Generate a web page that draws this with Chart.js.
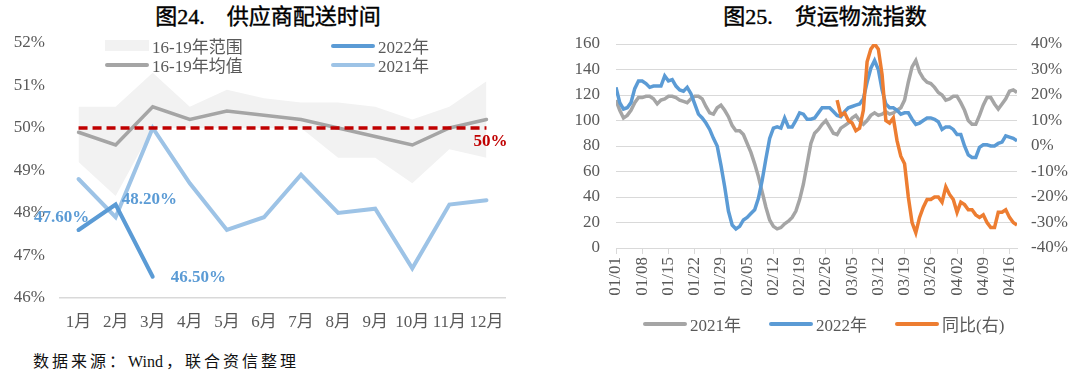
<!DOCTYPE html>
<html>
<head>
<meta charset="utf-8">
<script src="https://cdn.jsdelivr.net/npm/chart.js@4.4.0/dist/chart.umd.min.js"></script>
<style>
  body { margin: 0; width: 1080px; height: 372px; background: #fff; position: relative; overflow: hidden;
         font-family: "Liberation Serif", "Noto Sans CJK SC", serif; }
  .title { position: absolute; top: 4px; font-size: 22px; color: #000; white-space: nowrap;
           transform: translateX(-50%); line-height: 26px; -webkit-text-stroke: 0.4px #000; }
  .title .gap { display: inline-block; width: 22px; }
  .box { position: absolute; top: 30px; width: 540px; height: 308px; }
  .lg { position: absolute; font-size: 17px; color: #595959; display: flex; align-items: center; white-space: nowrap; }
  .sw { display: inline-block; width: 44px; height: 4px; border-radius: 2px; margin-right: 3px; }
  .fill { height: 11px; border-radius: 0; }
  .foot { position: absolute; left: 33px; top: 348px; font-size: 16px; letter-spacing: 3px; color: #111; }
  .foot span { letter-spacing: 0; margin-right: 3px; }
</style>
</head>
<body>
<div class="title" style="left:268px">图24.<span class="gap"></span>供应商配送时间</div>
<div class="title" style="left:825px">图25.<span class="gap"></span>货运物流指数</div>

<div class="box" style="left:0"><canvas id="c24" width="540" height="308"></canvas></div>
<div class="box" style="left:540px"><canvas id="c25" width="540" height="308"></canvas></div>

<!-- legend, chart 24 -->
<div class="lg" style="left:105px; top:33px"><span class="sw fill" style="background:#F2F2F2"></span>16-19年范围</div>
<div class="lg" style="left:331px; top:33px"><span class="sw" style="background:#5B9BD5"></span>2022年</div>
<div class="lg" style="left:105px; top:52px"><span class="sw" style="background:#A5A5A5"></span>16-19年均值</div>
<div class="lg" style="left:331px; top:52px"><span class="sw" style="background:#9DC3E6"></span>2021年</div>

<!-- legend, chart 25 -->
<div class="lg" style="left:643px; top:311px"><span class="sw" style="background:#A5A5A5"></span>2021年</div>
<div class="lg" style="left:769px; top:311px"><span class="sw" style="background:#5B9BD5"></span>2022年</div>
<div class="lg" style="left:895px; top:311px"><span class="sw" style="background:#ED7D31"></span>同比(右)</div>

<div class="foot">数据来源：<span>Wind</span>，联合资信整理</div>

<script>
// ---- 图24 供应商配送时间 (%) ----
const months = ['1月', '2月', '3月', '4月', '5月', '6月', '7月', '8月', '9月', '10月', '11月', '12月'];
const rangeHigh = [50.5, 50.5, 51.3, 50.5, 50.9, 50.7, 50.6, 50.6, 50.5, 50.2, 50.5, 51.1];
const rangeLow = [49.2, 48.4, 50.0, 50.0, 50.0, 50.0, 50.0, 49.3, 49.3, 48.7, 49.5, 49.3];
const avg1619 = [49.9, 49.6, 50.5, 50.2, 50.4, 50.3, 50.2, 50.0, 49.8, 49.6, 50.0, 50.2];
const pmi2021 = [48.8, 47.9, 50.0, 48.7, 47.6, 47.9, 48.9, 48.0, 48.1, 46.7, 48.2, 48.3];
const pmi2022 = [47.6, 48.2, 46.5];
const line50 = [50, 50, 50, 50, 50, 50, 50, 50, 50, 50, 50, 50];

// ---- 图25 货运物流指数 (daily, day 0 = 01/01) ----
const tickLabels = ['01/01', '01/08', '01/15', '01/22', '01/29', '02/05', '02/12', '02/19',
                    '02/26', '03/05', '03/12', '03/19', '03/26', '04/02', '04/09', '04/16'];
const idx2021 = [
  116, 108, 102, 104, 108, 114, 118, 118, 119, 119,
  117, 113, 116, 117, 119, 119, 118, 116, 115, 114,
  117, 119, 119, 117, 111, 106, 105, 110, 112, 108,
  103, 96, 92, 92, 89, 82, 75, 66, 56, 44,
  32, 22, 17, 15, 16, 19, 21, 24, 29, 38,
  50, 66, 82, 90, 93, 97, 100, 95, 90, 89,
  94, 96, 98, 102, 104, 100, 97, 100, 104, 106,
  104, 105, 107, 105, 106, 108, 110, 116, 130, 142,
  147, 138, 133, 130, 129, 126, 122, 120, 116, 117,
  119, 119, 114, 108, 100, 97, 97, 104, 112, 118,
  118, 113, 109, 113, 117, 123, 124, 122
];
const idx2022 = [
  126, 114, 109, 110, 114, 125, 131, 131, 129, 126,
  127, 127, 127, 135, 131, 132, 127, 124, 123, 126,
  121, 113, 105, 102, 98, 93, 86, 80, 65, 48,
  29, 18, 15, 17, 22, 24, 27, 30, 39, 53,
  70, 86, 94, 95, 94, 102, 95, 95, 100, 106,
  105, 101, 101, 102, 106, 110, 110, 110, 107, 104,
  103, 107, 110, 111, 112, 113, 117, 130, 141, 147,
  140, 124, 113, 110, 110, 108, 105, 106, 106, 101,
  97, 98, 100, 102, 102, 101, 99, 93, 95, 95,
  93, 89, 89, 80, 73, 71, 71, 79, 81, 81,
  80, 80, 82, 83, 88, 87, 86, 84
];
const yoyStartDay = 59;
const yoy = [
  18, 12, 13, 10, 9, 6, 7, 14, 33, 38,
  40, 38, 28, 10, 9, 11, 2, -4, -7, -20,
  -30, -34, -28, -24, -21, -21, -20, -20, -22, -16,
  -19, -21, -26, -22, -23, -25, -25, -27, -28, -27,
  -30, -32, -32, -26, -26, -25, -28, -30, -31
];

Chart.defaults.font.family = '"Liberation Serif", "Noto Sans CJK SC", serif';
Chart.defaults.font.size = 17;
Chart.defaults.color = '#595959';

// fixed axis width; drop the label padding chart.js adds above/below the y axis
function fixWidth(w) {
  return s => { s.width = w; s.paddingTop = 0; s.paddingBottom = 0; };
}

// data labels on the 2022 line and the "50%" tag
const labels24 = {
  id: 'labels24',
  afterDatasetsDraw(chart) {
    const ctx = chart.ctx;
    const pts = chart.getDatasetMeta(1).data;
    const offs = [[-17, -12, 'center'], [6, -5, 'left'], [18, 1, 'left']];
    ctx.save();
    ctx.font = 'bold 17px "Liberation Serif"';
    ctx.textBaseline = 'middle';
    ctx.fillStyle = '#5B9BD5';
    pts.forEach((p, i) => {
      ctx.textAlign = offs[i][2];
      ctx.fillText(pmi2022[i].toFixed(2) + '%', p.x + offs[i][0], p.y + offs[i][1]);
    });
    const last = chart.getDatasetMeta(0).data[11];
    ctx.fillStyle = '#C00000';
    ctx.textAlign = 'center';
    ctx.fillText('50%', last.x + 4, last.y + 14);
    ctx.restore();
  }
};

new Chart(document.getElementById('c24'), {
  type: 'line',
  data: {
    labels: months,
    datasets: [
      { label: '50%', data: line50, borderColor: '#C00000', borderWidth: 3.5, borderDash: [9, 5], pointRadius: 0 },
      { label: '2022年', data: pmi2022, borderColor: '#5B9BD5', borderWidth: 4, pointRadius: 0, borderCapStyle: 'round' },
      { label: '2021年', data: pmi2021, borderColor: '#9DC3E6', borderWidth: 4, pointRadius: 0, borderCapStyle: 'round' },
      { label: '16-19年均值', data: avg1619, borderColor: '#A5A5A5', borderWidth: 3.5, pointRadius: 0, borderCapStyle: 'round' },
      { label: '16-19年范围', data: rangeHigh, borderColor: 'rgba(0,0,0,0)', borderWidth: 0, pointRadius: 0,
        fill: '+1', backgroundColor: '#F2F2F2' },
      { label: 'low', data: rangeLow, borderColor: 'rgba(0,0,0,0)', borderWidth: 0, pointRadius: 0, fill: false }
    ]
  },
  options: {
    responsive: false,
    animation: false,
    layout: { padding: { top: 13, right: 35, left: 0, bottom: 0 } },
    plugins: { legend: { display: false }, tooltip: { enabled: false } },
    scales: {
      x: {
        offset: true,
        grid: { drawOnChartArea: false, drawTicks: false, offset: true },
        border: { color: '#D9D9D9', width: 1.5 },
        ticks: { padding: 14, maxRotation: 0, minRotation: 0, autoSkip: false },
        afterFit(s) { s.height = 40; }
      },
      y: {
        min: 46, max: 52,
        grid: { display: false, drawTicks: false },
        border: { display: false },
        ticks: { stepSize: 1, padding: 15, callback: v => v + '%' },
        afterFit: fixWidth(60)
      }
    }
  },
  plugins: [labels24]
});

new Chart(document.getElementById('c25'), {
  type: 'line',
  data: {
    datasets: [
      { label: '同比(右)', data: yoy.map((v, i) => ({ x: yoyStartDay + i, y: v })), yAxisID: 'y1',
        borderColor: '#ED7D31', borderWidth: 3.5, pointRadius: 0 },
      { label: '2022年', data: idx2022.map((v, i) => ({ x: i, y: v })), yAxisID: 'y',
        borderColor: '#5B9BD5', borderWidth: 3.5, pointRadius: 0 },
      { label: '2021年', data: idx2021.map((v, i) => ({ x: i, y: v })), yAxisID: 'y',
        borderColor: '#A5A5A5', borderWidth: 3.5, pointRadius: 0 }
    ]
  },
  options: {
    responsive: false,
    animation: false,
    layout: { padding: { top: 14, right: 0, left: 0, bottom: 0 } },
    plugins: { legend: { display: false }, tooltip: { enabled: false } },
    scales: {
      x: {
        type: 'linear', min: 0, max: 107,
        grid: { drawOnChartArea: false, tickLength: 6, color: '#D9D9D9' },
        border: { color: '#D9D9D9' },
        ticks: { stepSize: 7, includeBounds: false, autoSkip: false, minRotation: 90, maxRotation: 90, padding: 3,
                 callback: v => tickLabels[v / 7] },
        afterFit(s) { s.height = 90; }
      },
      y: {
        position: 'left', min: 0, max: 160,
        grid: { color: '#D9D9D9', drawTicks: false },
        border: { display: false },
        ticks: { stepSize: 20, padding: 16 },
        afterFit: fixWidth(76)
      },
      y1: {
        position: 'right', min: -40, max: 40,
        grid: { drawOnChartArea: false, drawTicks: false },
        border: { display: false },
        ticks: { stepSize: 10, padding: 14, callback: v => v + '%' },
        afterFit: fixWidth(63)
      }
    }
  }
});
</script>
</body>
</html>
